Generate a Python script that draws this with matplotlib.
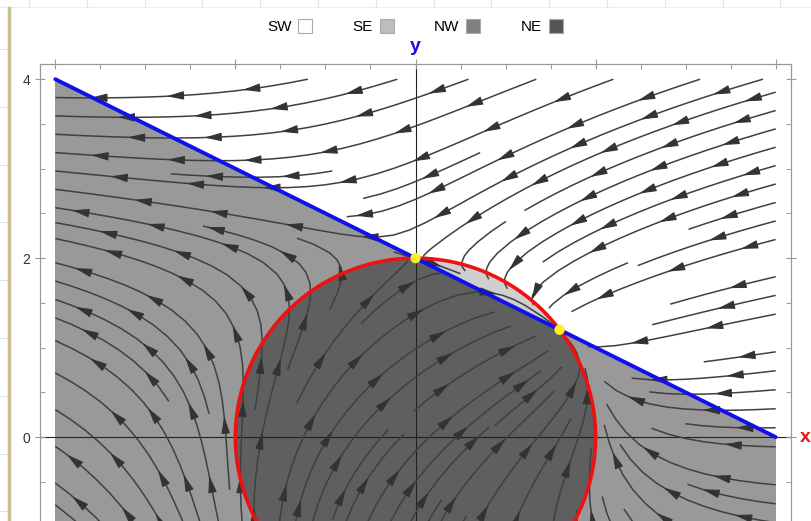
import numpy as np
import matplotlib
matplotlib.use("Agg")
import matplotlib.pyplot as plt
from matplotlib.colors import ListedColormap
from matplotlib.lines import Line2D

plt.rcParams["font.family"] = ["Liberation Sans", "DejaVu Sans"]

# nullclines and equilibria
circle_r = 2.0
line_x = [-4, 4]
line_y = [4, 0]
eq_x = [0, 1.6]
eq_y = [2, 1.2]

# regions by direction of flow
region_names = ["SW", "SE", "NW", "NE"]
region_colors = ["#ffffff", "#cfcfcf", "#999999", "#5f5f5f"]
legend_colors = ["#ffffff", "#bdbdbd", "#808080", "#555555"]

lo, hi = -4, 4
lim = 4.17

W, H = 811, 521
fig = plt.figure(figsize=(W / 100, H / 100), dpi=100)

# faint page grid + left rule behind the chart
for yp in np.arange(49, H, 57.8):
    fig.add_artist(Line2D([0, 8 / W], [1 - yp / H] * 2, color="#d6e6f5", lw=0.8))
for xp in np.arange(29, W, 57.8):
    fig.add_artist(Line2D([xp / W] * 2, [1, 1 - 7 / H], color="#d6e6f5", lw=0.8))
fig.add_artist(Line2D([0, 1], [1 - 7 / H] * 2, color="#e4eef8", lw=0.8))
fig.add_artist(Line2D([9 / W] * 2, [0, 1 - 8 / H], color="#c9c08f", lw=2.5))

ax_top = 64
ax_bot = 437 + lim * 89.5
ax = fig.add_axes([40 / W, 1 - ax_bot / H, 751 / W, (ax_bot - ax_top) / H])

# vector field: x' = 4 - x^2 - y^2, y' = 4 - x - 2y
n = 200
gx = np.linspace(lo, hi, n)
gy = np.linspace(lo, hi, n)
X, Y = np.meshgrid(gx, gy)
U = 4 - X**2 - Y**2
V = 4 - X - 2 * Y

# shaded regions
m = 1200
sx = np.linspace(lo, hi, m)
SX, SY = np.meshgrid(sx, sx)
SU = 4 - SX**2 - SY**2
SV = 4 - SX - 2 * SY
code = (SU > 0).astype(int) + 2 * (SV > 0).astype(int)
ax.imshow(code, origin="lower", extent=[lo, hi, lo, hi],
          cmap=ListedColormap(region_colors), vmin=-0.5, vmax=3.5,
          interpolation="nearest", zorder=0, aspect="auto")

ax.axhline(0, color="#222222", lw=0.8, zorder=1)
ax.axvline(0, color="#222222", lw=0.8, zorder=1)

sp = ax.streamplot(X, Y, U, V, density=1.35, color="#404040", linewidth=1.1,
                   arrowstyle="-", arrowsize=0.01, zorder=2)
for p in list(ax.patches):
    p.remove()

# several arrowheads along each stream line
step, head = 0.85, 0.14
for k, seg in enumerate(sp.lines.get_segments()):
    s = np.concatenate([[0], np.cumsum(np.hypot(np.diff(seg[:, 0]), np.diff(seg[:, 1])))])
    if s[-1] < 0.3:
        continue
    start = 0.35 + (k * 0.37) % 0.5
    for sa in np.arange(start, s[-1] - 0.05, step):
        tip = (np.interp(sa, s, seg[:, 0]), np.interp(sa, s, seg[:, 1]))
        tail = (np.interp(sa - head, s, seg[:, 0]), np.interp(sa - head, s, seg[:, 1]))
        ax.annotate("", xy=tip, xytext=tail, zorder=2,
                    arrowprops=dict(arrowstyle="-|>,head_length=0.8,head_width=0.2",
                                    color="#333333", lw=0.8, shrinkA=0, shrinkB=0,
                                    mutation_scale=13))

t = np.linspace(0, 2 * np.pi, 400)
ax.plot(circle_r * np.cos(t), circle_r * np.sin(t), color="#ee1111", lw=2.6, zorder=3)
ax.plot(line_x, line_y, color="#1010ee", lw=2.8, zorder=3, solid_capstyle="round")
ax.scatter(eq_x, eq_y, s=55, color="#ffee22", edgecolor="none", zorder=4)

ax.set_xlim(-lim, lim)
ax.set_ylim(-lim, lim)

for s in ax.spines.values():
    s.set_color("#999999")
    s.set_linewidth(0.9)
ax.set_xticks([-4, -2, 0, 2, 4])
ax.set_yticks([-4, -2, 0, 2, 4])
ax.set_xticks(np.arange(-4, 4.01, 0.5), minor=True)
ax.set_yticks(np.arange(-4, 4.01, 0.5), minor=True)
ax.tick_params(which="major", direction="inout", length=7, width=0.8, color="#999999",
               top=True, right=True, labelsize=10, labelcolor="#333333",
               labelbottom=False)
ax.tick_params(which="minor", direction="in", length=3.5, width=0.7, color="#999999",
               top=True, right=True)
ax.set_yticklabels(["", "", "0", "2", "4"])

ax.text(4.33, 0, "x", color="#ee1111", fontsize=14, fontweight="bold",
        ha="center", va="center", clip_on=False)
ax.text(0, 4.36, "y", color="#1010ee", fontsize=14, fontweight="bold",
        ha="center", va="center", clip_on=False)

handles = [Line2D([], [], ls="none", marker="s", markersize=10,
                  markerfacecolor=c, markeredgecolor="#aaaaaa", markeredgewidth=0.8)
           for c in legend_colors]
fig.legend(handles, region_names, loc="center", bbox_to_anchor=(0.512, 1 - 27 / H),
           ncol=4, frameon=False, markerfirst=False, fontsize=11,
           columnspacing=2.6, handletextpad=0.4, handlelength=1.0)

fig.savefig("out.png", dpi=100)
